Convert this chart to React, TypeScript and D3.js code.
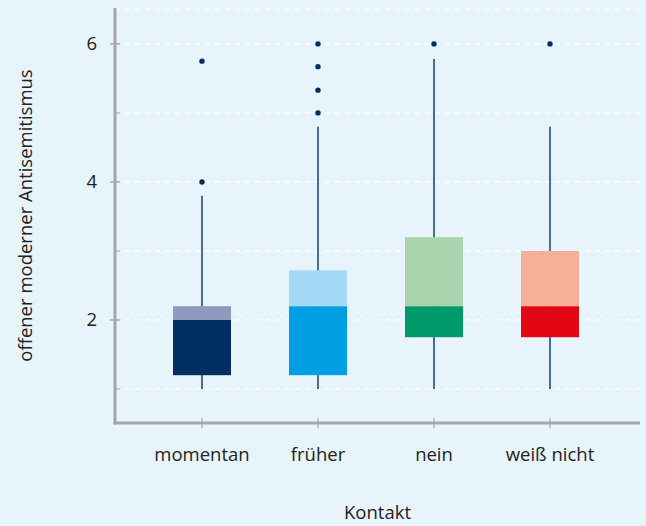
import React from "react";
import * as d3 from "d3";

const categories = ["momentan", "früher", "nein", "weiß nicht"];
const whiskerLow = [1, 1, 1, 1];
const q1 = [1.2, 1.2, 1.75, 1.75];
const median = [2.0, 2.2, 2.2, 2.2];
const q3 = [2.2, 2.72, 3.2, 3.0];
const whiskerHigh = [3.8, 4.8, 5.78, 4.8];
const outliers = [[4, 5.75], [5, 5.33, 5.67, 6], [6], [6]];
const darkColors = ["#002f63", "#009fe3", "#00996a", "#e30613"];
const lightColors = ["#8e9abd", "#a4daf7", "#a8d4ae", "#f6b097"];
const majorTicks = [2, 4, 6];
const minorTicks = [1, 3, 5];
const gridValues = [1, 2, 3, 4, 5, 6, 6.5];

const W = 646;
const H = 526;
const axisX = 115;
const axisY = 423;
const rightX = 640;

export default function App() {
  const y = d3.scaleLinear().domain([0.5, 6.52]).range([423.5, 8]);
  const x = d3.scaleBand().domain(categories).range([144, 608]).paddingInner(0.5).paddingOuter(0.25);
  const bw = x.bandwidth();
  const font = "'Open Sans', 'Noto Sans', sans-serif";
  const fs = 18.5;
  return (
    <svg width={W} height={H} style={{ position: "absolute", left: 0, top: 0, background: "#e8f4fc" }} fontFamily={font}>
      <rect x={0} y={0} width={W} height={H} fill="#e8f4fc" />
      {gridValues.map((v) => (
        <line key={"g" + v} x1={axisX} x2={rightX} y1={y(v)} y2={y(v)} stroke="#ffffff" strokeWidth={1.2} strokeDasharray="5,5" />
      ))}
      {categories.map((c, i) => {
        const cx = (x(c) as number) + bw / 2;
        return (
          <g key={c}>
            <line x1={cx} x2={cx} y1={y(whiskerLow[i])} y2={y(whiskerHigh[i])} stroke="#1d4c82" strokeWidth={1.6} />
            <rect x={x(c)} width={bw} y={y(median[i])} height={y(q1[i]) - y(median[i])} fill={darkColors[i]} />
            <rect x={x(c)} width={bw} y={y(q3[i])} height={y(median[i]) - y(q3[i])} fill={lightColors[i]} />
            {outliers[i].map((o, j) => (
              <circle key={j} cx={cx} cy={y(o)} r={2.7} fill="#00305f" />
            ))}
          </g>
        );
      })}
      {/* y axis */}
      <line x1={axisX} x2={axisX} y1={8} y2={axisY + 1.5} stroke="#a6a6a6" strokeWidth={3} />
      {majorTicks.map((t) => (
        <g key={"t" + t}>
          <line x1={axisX - 5} x2={axisX + 5} y1={y(t)} y2={y(t)} stroke="#a6a6a6" strokeWidth={1.5} />
          <text x={97} y={y(t)} dy="0.35em" textAnchor="end" fontSize={fs} fill="#222">{t}</text>
        </g>
      ))}
      {minorTicks.map((t) => (
        <line key={"m" + t} x1={axisX} x2={axisX + 5} y1={y(t)} y2={y(t)} stroke="#a6a6a6" strokeWidth={1.2} />
      ))}
      {/* x axis */}
      <line x1={axisX - 1.5} x2={rightX} y1={axisY} y2={axisY} stroke="#a6a6a6" strokeWidth={3} />
      {categories.map((c) => {
        const cx = (x(c) as number) + bw / 2;
        return (
          <g key={"x" + c}>
            <line x1={cx} x2={cx} y1={axisY - 5} y2={axisY + 5} stroke="#a6a6a6" strokeWidth={1.2} />
            <text x={cx} y={461} textAnchor="middle" fontSize={fs} fill="#222">{c}</text>
          </g>
        );
      })}
      <text x={(axisX + rightX) / 2} y={519} textAnchor="middle" fontSize={fs} fill="#222">Kontakt</text>
      <text transform={`translate(32, ${(8 + axisY) / 2}) rotate(-90)`} textAnchor="middle" fontSize={fs} fill="#222">offener moderner Antisemitismus</text>
    </svg>
  );
}
